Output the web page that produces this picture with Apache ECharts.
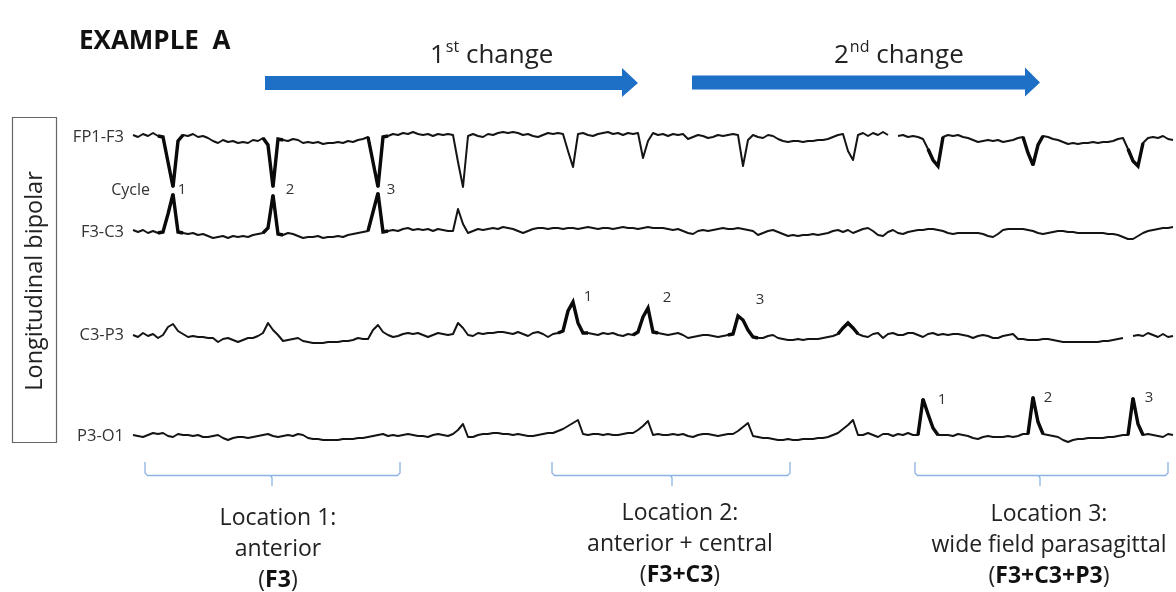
<!DOCTYPE html>
<html>
<head>
<meta charset="utf-8">
<script src="https://cdn.jsdelivr.net/npm/echarts@6/dist/echarts.min.js"></script>
<style>html,body{margin:0;padding:0;background:#fff}#main{width:1176px;height:592px}</style>
</head>
<body>
<div id="main"></div>
<script>
// ---- data (time step 0.05 s, amplitude in µV, up = positive) ----
const sampleStep = 0.05;
const channels = ['FP1-F3', 'F3-C3', 'C3-P3', 'P3-O1'];

const fp1f3 = [
  2,0,3,1,4,1,0,-25,-50,-4,
  2,1,3,0,1,-1,-4,-6,-3,-5,
  -4,-6,-5,-6,-3,-4,-1,-8,-50,-2,
  -3,-4,-2,-3,-6,-5,-6,-5,-7,-6,
  -6,-5,-6,-4,-5,-3,-2,0,-25,-50,
  0,1,3,2,4,3,5,3,2,3,
  1,3,2,3,2,-25,-50,1,3,1,
  0,3,2,4,5,4,5,4,2,3,
  1,0,2,4,3,4,3,-14,-30,3,
  4,2,1,3,4,5,3,4,2,4,
  3,4,-21,-4,4,2,3,1,3,2,
  3,-2,0,2,1,-1,0,2,1,2,
  3,2,-29,-3,2,0,-1,2,1,-2,
  -4,-5,-4,-4,-5,-4,-4,-3,-3,-2,
  0,2,3,-14,-23,2,4,1,4,2,
  5,2,null,1,2,0,1,0,-2,-12,
  -23,-29,0,2,1,2,0,-1,-3,-5,
  -4,-3,-4,-3,-5,-4,-3,-1,0,-16,
  -28,-8,1,0,-2,-3,-5,-7,-6,-7,
  -6,-6,-5,-6,-5,-5,-4,-2,-1,-12,
  -24,-29,-6,-1,0,-1,1,-2,-3
];
const f3c3 = [
  2,0,2,-1,1,-1,0,18,38,0,
  -1,-2,-1,-3,-2,-4,-6,-5,-4,-6,
  -4,-5,-4,-5,-3,-2,-1,4,37,-2,
  -3,-1,-2,-4,-6,-5,-5,-4,-6,-5,
  -5,-4,-5,-3,-2,-1,0,1,20,39,
  0,1,2,1,3,4,2,3,2,3,
  1,3,2,1,1,23,8,-1,1,3,
  2,3,4,3,5,4,3,1,-1,1,
  3,4,4,3,4,4,3,4,4,3,
  4,5,4,3,4,4,3,4,5,4,
  4,3,4,5,4,4,4,3,2,3,
  1,-1,-2,1,2,1,2,3,4,3,
  3,4,3,2,1,-3,-1,1,2,0,
  -2,-4,-3,-4,-3,-3,-2,-3,-2,-1,
  1,2,0,2,-1,1,3,4,1,-3,
  -4,0,2,-1,-2,0,1,2,2,3,
  3,2,1,-1,-2,-1,-1,-1,-1,-1,
  -2,-4,-5,-2,2,3,3,3,3,2,
  1,-1,-2,-1,0,1,1,0,0,-1,
  -1,-1,-1,-1,-1,-2,-2,-3,-5,-7,
  -7,-4,-1,1,2,3,4,4,5
];
const c3p3 = [
  0,-2,2,-1,1,-3,0,8,11,4,
  1,-2,-1,-2,-2,-3,-3,-7,-4,-3,
  -5,-7,-5,-3,-3,-1,2,12,5,0,
  -6,-5,-4,-3,-6,-7,-8,-8,-8,-7,
  -7,-7,-6,-6,-5,-3,-4,-4,5,10,
  3,0,-2,-1,1,2,1,2,0,-2,
  0,2,1,0,1,12,7,0,-1,2,
  1,2,2,3,3,2,1,3,1,-1,
  2,3,1,-2,1,2,4,24,33,12,
  2,2,1,0,2,1,2,0,-1,1,
  0,3,18,27,3,2,1,0,1,2,
  0,-3,-2,-1,0,0,-1,-2,-1,0,
  1,19,15,5,-2,-3,-3,-1,0,-3,
  -4,-5,-5,-4,-5,-4,-4,-4,-3,-2,
  -1,1,7,12,7,1,-1,-2,1,2,
  -3,1,2,0,0,2,2,0,-2,1,
  2,0,1,0,1,1,0,-1,-3,-1,
  0,-1,-3,-3,-1,0,1,-4,-4,-5,
  -5,-5,-4,-4,-5,-6,-7,-7,-7,-7,
  -7,-7,-7,-7,-6,-6,-5,-4,-3,null,
  -1,0,-1,2,0,-2,1,-2,-1
];
const p3o1 = [
  1,0,-1,1,3,2,3,0,-1,2,
  1,1,0,1,-1,-1,0,1,-2,-4,
  -2,-1,-1,-2,-1,0,1,2,0,-1,
  0,1,0,2,1,-2,-3,-3,-4,-4,
  -4,-4,-3,-3,-3,-2,-2,-1,0,1,
  2,0,1,0,1,2,1,0,0,-1,
  1,2,1,0,2,6,12,-1,-1,1,
  2,2,3,3,2,2,1,2,1,0,
  0,1,2,3,3,5,7,10,13,16,
  2,1,2,2,1,2,1,1,2,3,
  3,6,10,15,1,2,1,1,2,1,
  2,0,-1,1,2,2,1,0,1,2,
  2,5,9,13,0,-1,-2,-2,-3,-4,
  -4,-3,-4,-4,-3,-3,-3,-2,-2,-1,
  1,3,7,11,16,1,1,3,1,-1,
  2,2,0,2,1,3,1,1,37,22,
  8,1,1,1,0,2,1,0,-2,-3,
  -1,0,-1,-1,-1,0,-1,0,2,2,
  39,14,2,1,0,-1,-4,-6,-4,-3,
  -3,-2,-2,-2,-2,-1,-1,0,1,1,
  38,12,1,2,1,0,-1,2,1
];
const traces = [fp1f3, f3c3, c3p3, p3o1];

// sample-index ranges of the highlighted (bold) discharges per channel
const boldRanges = [
  [[5,10],[26,30],[47,51],[159,162],[178,182],[199,202]],
  [[5,10],[26,30],[47,51]],
  [[85,91],[100,105],[119,125],[141,145]],
  [[157,161],[179,182],[199,202]]
];

// cycle numbers: [channel, time (s), amplitude, label]
const cycleMarks = [
  [0, 0.49, -53, '1'], [0, 1.57, -53, '2'], [0, 2.58, -53, '3'],
  [2, 4.55, 38, '1'], [2, 5.34, 37, '2'], [2, 6.27, 35, '3'],
  [3, 8.09, 36, '1'], [3, 9.15, 38, '2'], [3, 10.16, 38, '3']
];

const changeLabels = [['1', 'st'], ['2', 'nd']];
const locationTitles = ['Location 1:', 'Location 2:', 'Location 3:'];
const locationDescs = ['anterior', 'anterior + central', 'wide field parasagittal'];
const locationLeads = ['F3', 'F3+C3', 'F3+C3+P3'];

// ---- layout ----
const FONT = '"Open Sans", Lato, sans-serif';
const baselines = [137, 232, 335, 436];
const halfH = 60;

const grids = [], xAxes = [], yAxes = [], series = [];
channels.forEach((name, k) => {
  grids.push({ left: 133, right: 0, top: baselines[k] - halfH, height: halfH * 2 });
  xAxes.push({ type: 'value', gridIndex: k, min: 0, max: 10.43, show: false });
  yAxes.push({
    type: 'value', gridIndex: k, min: -halfH, max: halfH, interval: halfH,
    axisLine: { show: false }, axisTick: { show: false }, splitLine: { show: false },
    axisLabel: { formatter: v => (v === 0 ? name : ''), color: '#333', fontSize: 16.5, fontFamily: FONT, margin: 9 }
  });
  const vals = traces[k];
  const data = vals.map((v, i) => [+(i * sampleStep).toFixed(2), v === null ? '-' : v]);
  const bold = vals.map((v, i) => {
    const inR = boldRanges[k].some(r => i >= r[0] && i <= r[1]);
    return [+(i * sampleStep).toFixed(2), (inR && v !== null) ? v : '-'];
  });
  const marks = cycleMarks.filter(m => m[0] === k).map(m => ({ coord: [m[1], m[2]], name: m[3] }));
  series.push({
    type: 'line', name, xAxisIndex: k, yAxisIndex: k, data, symbol: 'none', silent: true,
    connectNulls: false, clip: false,
    lineStyle: { color: '#141414', width: 2, join: 'round' },
    markPoint: marks.length ? {
      symbol: 'circle', symbolSize: 0, silent: true, animation: false,
      label: { show: true, formatter: '{b}', position: 'inside', color: '#333', fontSize: 15, fontFamily: FONT },
      data: marks
    } : undefined
  });
  series.push({
    type: 'line', name: name + ' bold', xAxisIndex: k, yAxisIndex: k, data: bold, symbol: 'none', silent: true,
    connectNulls: false, clip: false,
    lineStyle: { color: '#0a0a0a', width: 3.4, join: 'miter', miterLimit: 3 }
  });
});

const blue = '#1e6fc6';
const bracketColor = '#8db3e2';
const arrows = [
  { x0: 265, x1: 622, tip: 638, y: 83, textX: 430 },
  { x0: 692, x1: 1025, tip: 1040, y: 82.5, textX: 834 }
];
const brackets = [
  { l: 145, r: 400, c: 272, tx: 278, ty: 503 },
  { l: 552, r: 790, c: 672, tx: 680, ty: 498 },
  { l: 915, r: 1168, c: 1040, tx: 1049, ty: 499 }
];

const graphic = [];
graphic.push({ type: 'text', x: 79, y: 42, style: { text: 'EXAMPLE  A', font: 'bold 26px ' + FONT, fill: '#111', textVerticalAlign: 'middle', verticalAlign: 'middle' } });
arrows.forEach((a, j) => {
  graphic.push({ type: 'polygon', shape: { points: [[a.x0, a.y - 7], [a.x1, a.y - 7], [a.x1, a.y - 15], [a.tip, a.y], [a.x1, a.y + 14], [a.x1, a.y + 7], [a.x0, a.y + 7]] }, style: { fill: blue } });
  graphic.push({ type: 'text', x: a.textX, y: 37, style: {
    text: '{m|' + changeLabels[j][0] + '}{s|' + changeLabels[j][1] + '}{m| change}',
    textVerticalAlign: 'top', verticalAlign: 'top',
    rich: {
      m: { fontSize: 26, fontFamily: FONT, fill: '#222', color: '#222', lineHeight: 32, verticalAlign: 'bottom' },
      s: { fontSize: 16, fontFamily: FONT, fill: '#222', color: '#222', lineHeight: 32, verticalAlign: 'top', padding: [2, 0, 0, 1] }
    }
  } });
});
graphic.push({ type: 'rect', shape: { x: 12.5, y: 117.5, width: 44, height: 325 }, style: { fill: 'none', stroke: '#666', lineWidth: 1.2 } });
graphic.push({ type: 'text', x: 35, y: 281, rotation: Math.PI / 2, style: { text: 'Longitudinal bipolar', font: '23.5px ' + FONT, fill: '#222', textAlign: 'center', align: 'center', textVerticalAlign: 'middle', verticalAlign: 'middle' } });
graphic.push({ type: 'text', x: 150, y: 190, style: { text: 'Cycle', font: '16px ' + FONT, fill: '#333', textAlign: 'right', align: 'right', textVerticalAlign: 'middle', verticalAlign: 'middle' } });
brackets.forEach((b, j) => {
  graphic.push({ type: 'polyline', shape: { points: [[b.l, 462], [b.l, 473], [b.l + 2.5, 475.5], [b.r - 2.5, 475.5], [b.r, 473], [b.r, 462]] }, style: { stroke: bracketColor, lineWidth: 1.3, fill: 'none' } });
  graphic.push({ type: 'polyline', shape: { points: [[b.c - 2, 475.5], [b.c, 477.5], [b.c, 486]] }, style: { stroke: bracketColor, lineWidth: 1.3, fill: 'none' } });
  graphic.push({ type: 'text', x: b.tx, y: b.ty, style: {
    text: '{n|' + locationTitles[j] + '}\n{n|' + locationDescs[j] + '}\n{n|(}{b|' + locationLeads[j] + '}{n|)}',
    textAlign: 'center', align: 'center', textVerticalAlign: 'top', verticalAlign: 'top',
    rich: {
      n: { fontSize: 23, fontFamily: FONT, fill: '#222', color: '#222', lineHeight: 31 },
      b: { fontSize: 23, fontFamily: FONT, fontWeight: 'bold', fill: '#111', color: '#111', lineHeight: 31 }
    }
  } });
});

const chart = echarts.init(document.getElementById('main'), null, { renderer: 'canvas' });
chart.setOption({
  animation: false,
  backgroundColor: '#fff',
  grid: grids, xAxis: xAxes, yAxis: yAxes, series, graphic
});
</script>
</body>
</html>
